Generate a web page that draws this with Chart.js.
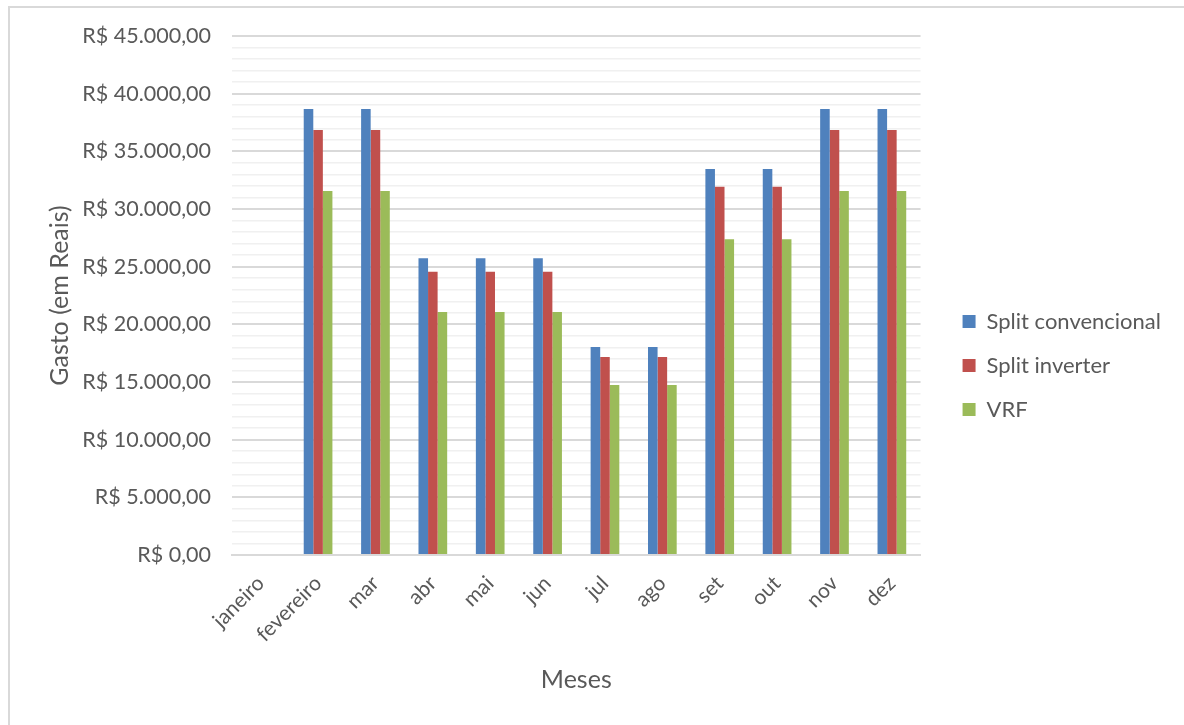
<!DOCTYPE html>
<html>
<head>
<meta charset="utf-8">
<script src="https://cdn.jsdelivr.net/npm/chart.js@4.4.1/dist/chart.umd.min.js"></script>
<style>
  html, body { margin: 0; padding: 0; background: #ffffff; overflow: hidden; }
  #frame { position: absolute; left: 8px; top: 6px; width: 1190px; height: 730px; border: 2px solid #d9d9d9; box-sizing: border-box; }
  #wrap { position: absolute; left: 0; top: 0; width: 1184px; height: 725px; }
</style>
</head>
<body>
<div id="frame"></div>
<div id="wrap"><canvas id="c" width="1184" height="725"></canvas></div>
<script>
// Meses e gasto mensal por sistema de climatização (R$)
const meses = ['janeiro', 'fevereiro', 'mar', 'abr', 'mai', 'jun', 'jul', 'ago', 'set', 'out', 'nov', 'dez'];
const splitConvencional = [0, 38670, 38670, 25725, 25725, 25725, 18035, 18035, 33470, 33470, 38670, 38670];
const splitInverter     = [0, 36850, 36850, 24565, 24565, 24565, 17170, 17170, 31935, 31935, 36850, 36850];
const vrf               = [0, 31560, 31560, 21070, 21070, 21070, 14740, 14740, 27375, 27375, 31560, 31560];
const yMax = 45000;
const yStep = 1000;
const yLabelStep = 5000;
const yTitle = 'Gasto (em Reais)';

const textColor = '#595959';
const fontFamily = 'Lato, "Open Sans", sans-serif';

function formatReal(v) {
  const inteiro = Math.round(v).toString().replace(/\B(?=(\d{3})+(?!\d))/g, '.');
  return 'R$ ' + inteiro + ',00';
}

// Afasta um pouco a legenda da área do gráfico
const legendOffset = {
  id: 'legendOffset',
  beforeLayout(chart, args, opts) {
    const lg = chart.legend;
    if (lg && !lg._offsetPatched) {
      const draw = lg.draw;
      lg.draw = function () {
        const ctx = this.ctx;
        ctx.save();
        ctx.translate(opts.dx || 0, opts.dy || 0);
        draw.apply(this, arguments);
        ctx.restore();
      };
      lg._offsetPatched = true;
    }
  }
};

// Título vertical do eixo Y, a uma distância fixa da área do gráfico
const yAxisTitle = {
  id: 'yAxisTitle',
  afterDraw(chart, args, opts) {
    const area = chart.chartArea;
    const ctx = chart.ctx;
    ctx.save();
    ctx.translate(area.left - opts.gap, (area.top + area.bottom) / 2);
    ctx.rotate(-Math.PI / 2);
    ctx.font = opts.size + 'px ' + fontFamily;
    ctx.fillStyle = textColor;
    ctx.textAlign = 'center';
    ctx.textBaseline = 'middle';
    ctx.fillText(opts.text, 0, 0);
    ctx.restore();
  }
};

new Chart(document.getElementById('c'), {
  type: 'bar',
  data: {
    labels: meses,
    datasets: [
      { label: 'Split convencional', data: splitConvencional, backgroundColor: '#4f81bd' },
      { label: 'Split inverter', data: splitInverter, backgroundColor: '#c0504d' },
      { label: 'VRF', data: vrf, backgroundColor: '#9bbb59' }
    ]
  },
  plugins: [legendOffset, yAxisTitle],
  options: {
    responsive: false,
    animation: false,
    datasets: { bar: { categoryPercentage: 0.5, barPercentage: 1.0 } },
    layout: { padding: { left: 37, right: 33, top: 36, bottom: 30 } },
    plugins: {
      tooltip: { enabled: false },
      legendOffset: { dx: 20, dy: 0 },
      yAxisTitle: { text: yTitle, size: 25, gap: 172 },
      legend: {
        position: 'right',
        labels: {
          color: textColor,
          font: { family: fontFamily, size: 22 },
          boxWidth: 13,
          boxHeight: 13,
          padding: 22
        }
      }
    },
    scales: {
      x: {
        afterFit: s => { s.height = 140; },
        grid: { display: false },
        border: { display: true, color: '#d9d9d9', width: 2 },
        ticks: {
          color: textColor,
          font: { family: fontFamily, size: 21 },
          minRotation: 45,
          maxRotation: 45,
          autoSkip: false,
          padding: 8
        },
        title: {
          display: true,
          text: 'Meses',
          color: textColor,
          font: { family: fontFamily, size: 25 },
          padding: 0
        }
      },
      y: {
        min: 0,
        max: yMax,
        afterFit: s => { s.width = 195; },
        border: { display: false },
        grid: {
          drawTicks: false,
          color: ctx => (ctx.tick && ctx.tick.value % yLabelStep === 0) ? '#d9d9d9' : '#f0f0f0',
          lineWidth: ctx => (ctx.tick && ctx.tick.value % yLabelStep === 0) ? 2 : 1.5
        },
        ticks: {
          stepSize: yStep,
          autoSkip: false,
          color: textColor,
          font: { family: fontFamily, size: 21.5 },
          padding: 21,
          callback: v => (v % yLabelStep === 0 ? formatReal(v) : '')
        },
        title: { display: false }
      }
    }
  }
});
</script>
</body>
</html>
